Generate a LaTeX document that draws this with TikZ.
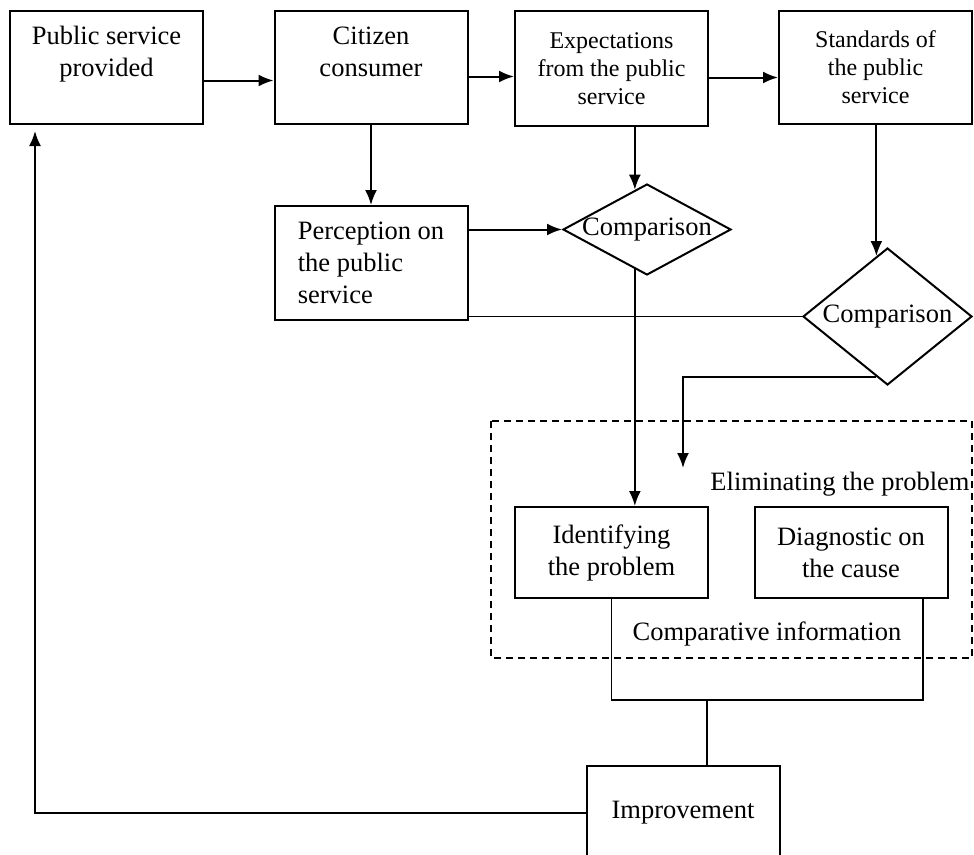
\documentclass[tikz,border=0pt]{standalone}
\usepackage{fontspec}
\setmainfont{Liberation Serif}
\usetikzlibrary{shapes.geometric,calc,arrows.meta}

\begin{document}
\begin{tikzpicture}[x=1pt, y=-1pt, line width=2pt,
  font=\fontsize{26.5}{32}\selectfont,
  box/.style={draw, rectangle, minimum width=193pt, minimum height=113pt, align=center, inner sep=0pt},
  small/.style={font=\fontsize{24}{28}\selectfont},
  cmp/.style={draw, diamond, inner sep=0pt},
  thin line/.style={line width=1.7pt},
  arr/.style={-{Latex[length=15pt,width=12pt]}}]
  \useasboundingbox (0,0) rectangle (974,854);

  \node[box] (PS) at (106.5, 67.5) {Public service\\provided\\~};
  \node[box] (CC) at (371, 67.5) {Citizen\\consumer\\~};
  \node[box, small, minimum height=115pt] (EX) at (611.5, 68.5) {Expectations\\from the public\\service};
  \node[box, small] (ST) at (875.5, 67.5) {Standards of\\the public\\service};
  \node[box, align=left, minimum height=114pt] (PE) at (371, 263) {Perception on\\the public\\service};
  \node[cmp, minimum width=168pt, minimum height=91pt, label=center:Comparison] (C1) at (647, 229.5) {};
  \node[cmp, minimum width=169pt, minimum height=137pt, label=center:Comparison] (C2) at (887.5, 316.5) {};
  \node[box, minimum height=91pt] (ID) at (611.5, 552.5) {Identifying\\the problem};
  \node[box, minimum height=91pt] (DI) at (851, 552.5) {Diagnostic on\\the cause};
  \node[box, minimum height=94pt] (IM) at (683, 813) {Improvement};
  \node (EL) at (840, 484) {Eliminating the problem};
  \node (CI) at (767, 634) {Comparative information};

  % dashed frame
  \draw[thin line, dash pattern=on 7pt off 5pt] (491,421) rectangle (972,658);

  \coordinate (T1) at ($(C1.north)!0.143!(C1.west)$);
  \coordinate (B1) at ($(C1.south)!0.143!(C1.west)$);
  \coordinate (T2) at ($(C2.north)!0.13!(C2.west)$);
  \coordinate (B2) at ($(C2.south)!0.13!(C2.west)$);
  \coordinate (DR) at (683, 468);
  \coordinate (JN) at (707, 700);

  \draw[arr] ([yshift=-13pt]PS.east) -- ([yshift=-13pt]CC.west);
  \draw[arr] ([yshift=-9pt]CC.east) -- ([yshift=-9pt]CC.east -| EX.west);
  \draw[arr] ([yshift=-9pt]EX.east) -- ([yshift=-9pt]EX.east -| ST.west);
  \draw[arr] (CC.south) -- (PE.north);
  \draw[arr] (PE.east |- C1.west) -- (C1.west);
  \draw[arr] (T1 |- EX.south) -- (T1);
  \draw[arr] (T2 |- ST.south) -- (T2);
  \draw[thin line] (PE.east |- C2.west) -- (C2.west);
  \draw[arr] (B1) -- (B1 |- ID.north);
  \draw[arr] (B2) -| (DR);
  \draw[thin line] (ID.south) |- ([xshift=72pt]DI.south |- JN) -- ([xshift=72pt]DI.south);
  \draw[thin line] (JN) -- (JN |- IM.north);
  \draw[arr] (IM.west) -| ([xshift=26pt, yshift=-6pt]PS.south west);
\end{tikzpicture}
\end{document}
